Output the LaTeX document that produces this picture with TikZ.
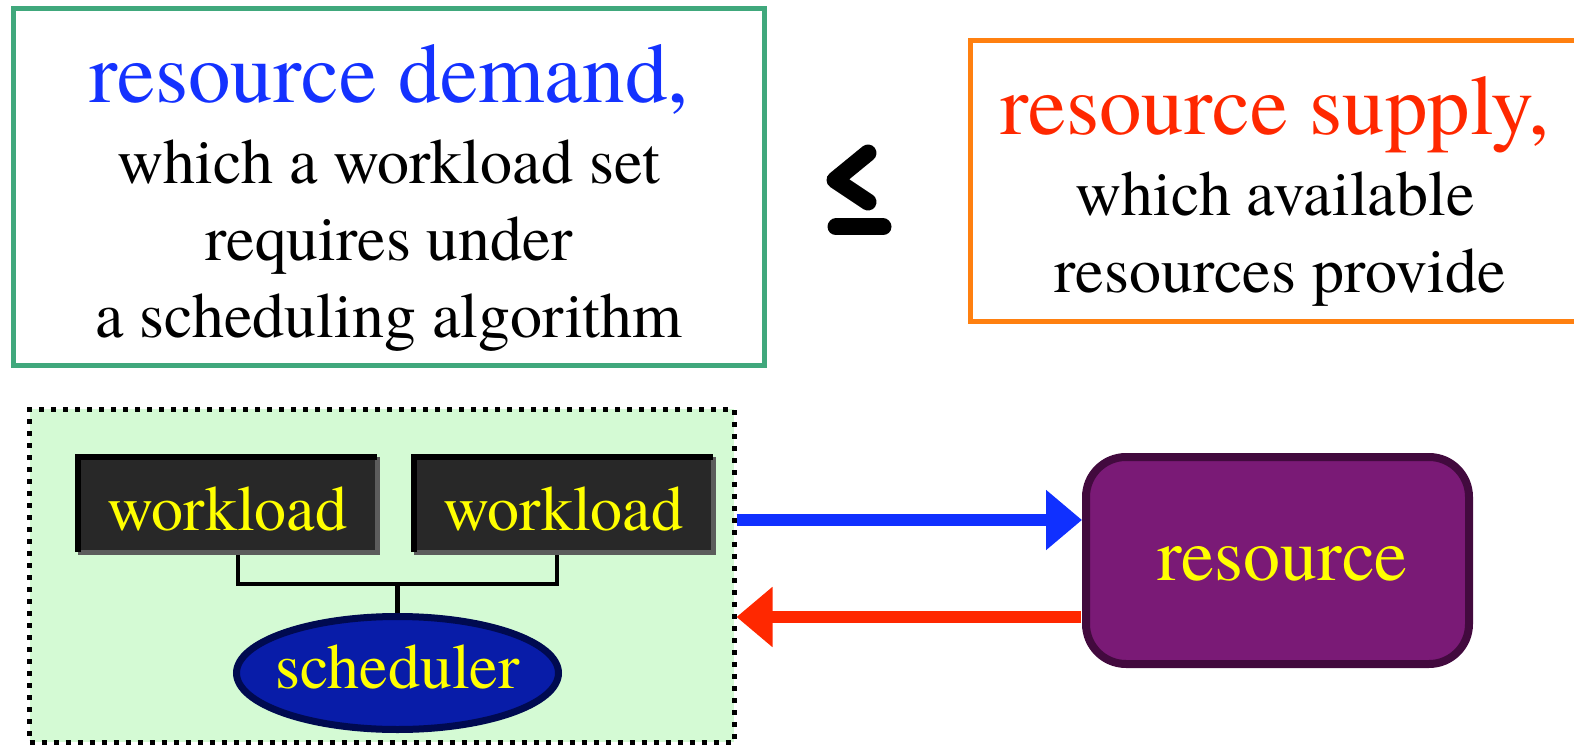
\documentclass[tikz,border=0pt]{standalone}
\usepackage{fontspec}
\setmainfont{TeX Gyre Termes}
\usetikzlibrary{arrows.meta,shapes.geometric,calc}

\definecolor{demandframe}{RGB}{64,168,124}
\definecolor{supplyframe}{RGB}{255,128,16}
\definecolor{demandtext}{RGB}{20,50,255}
\definecolor{supplytext}{RGB}{255,40,0}
\definecolor{panelfill}{RGB}{212,250,212}
\definecolor{wlfill}{RGB}{40,40,40}
\definecolor{wlshade}{RGB}{92,92,92}
\definecolor{schedfill}{RGB}{8,28,168}
\definecolor{schededge}{RGB}{0,10,80}
\definecolor{resfill}{RGB}{122,26,118}
\definecolor{resedge}{RGB}{66,10,62}
\definecolor{labelyellow}{RGB}{255,255,0}
\definecolor{demandarrow}{RGB}{16,48,255}
\definecolor{supplyarrow}{RGB}{255,40,0}

\tikzset{
  headline/.style={font=\fontsize{85}{90}\selectfont, inner sep=0pt, anchor=base},
  bodyline/.style={font=\fontsize{64}{70}\selectfont, inner sep=0pt, anchor=base},
  frame/.style={draw, line width=5pt, minimum width=#1, inner sep=0pt},
  wlbox/.style={fill=wlfill, minimum width=299pt, minimum height=95pt, inner sep=0pt,
    text=labelyellow, font=\fontsize{64}{70}\selectfont, text height=51pt, text depth=0pt},
  conn/.style={draw=black, line width=4.5pt},
  flow/.style={line width=12pt, -{Triangle[length=36pt,width=58pt]}},
  leqstroke/.style={line width=17pt, line cap=round, line join=round},
}

\begin{document}
\begin{tikzpicture}[x=1pt, y=-1pt]
\useasboundingbox (0,0) rectangle (1574,746);

% demand box
\node[frame=750.5pt, draw=demandframe, minimum height=357pt] (demand) at (388.75,187) {};
\node[headline, text=demandtext] (dem1) at (389,103) {resource demand,};
\node[bodyline] (dem2) at (389,184) {which a workload set};
\node[bodyline] (dem3) at (389,260) {requires under};
\node[bodyline] (dem4) at (389,337) {a scheduling algorithm};

% supply box (runs past the right edge)
\node[frame=620pt, draw=supplyframe, minimum height=280.5pt] (supply) at (1280,180.75) {};
\node[headline, text=supplytext] (sup1) at (1275,135) {resource supply,};
\node[bodyline] (sup2) at (1275,215) {which available};
\node[bodyline] (sup3) at (1280,292) {resources provide};

% less-or-equal sign
\draw[leqstroke] (868,153) -- (835,180) -- (868,202);
\draw[leqstroke] (836,227) -- (883,227);

% workload set panel
\node[fill=panelfill, draw=black, line width=5pt, dash pattern=on 5pt off 7pt,
      minimum width=704.5pt, minimum height=333pt, inner sep=0pt] (panel) at (381.75,575.5) {};

% workloads
\node[wlbox] (w1) at (227.5,504.5) {workload};
\node[wlbox] (w2) at (563.5,504.5) {workload};
\foreach \b in {w1,w2}{
  \draw[wlshade, line width=5pt] (\b.north east) -- (\b.south east) -- (\b.south west);
  \draw[black, line width=6pt] (\b.south west) -- (\b.north west) -- (\b.north east);
}

% scheduler
\node[ellipse, fill=schedfill, draw=schededge, line width=7pt,
      minimum width=322pt, minimum height=113pt, inner sep=0pt] (sched) at (397.5,673) {};
\node[bodyline, text=labelyellow] (schedtext) at ([yshift=-15pt]sched.center) {scheduler};

% connectors from workloads to scheduler
\coordinate (c1) at ([xshift=10.5pt,yshift=-2.5pt]w1.south);
\coordinate (c2) at ([xshift=-6.5pt,yshift=-2.5pt]w2.south);
\coordinate (bus) at (397.5,584);
\draw[conn] (c1) |- (bus -| c2) -- (c2);
\draw[conn] (bus) -- (sched.north);

% resource
\node[rounded corners=40pt, fill=resfill, draw=resedge, line width=8pt,
      minimum width=383pt, minimum height=207pt, inner sep=0pt] (res) at (1277.5,560.5) {};
\node[font=\fontsize{74}{80}\selectfont, inner sep=0pt, anchor=base, text=labelyellow]
      (restext) at ([xshift=5pt,yshift=-19.5pt]res.center) {resource};

% demand / supply flows
\coordinate (ydem) at (0,520);
\coordinate (ysup) at (0,617);
\draw[flow, demandarrow] (panel.east |- ydem) -- (res.west |- ydem);
\draw[flow, supplyarrow] ([xshift=-1pt]res.west |- ysup) -- (panel.east |- ysup);
\end{tikzpicture}
\end{document}
